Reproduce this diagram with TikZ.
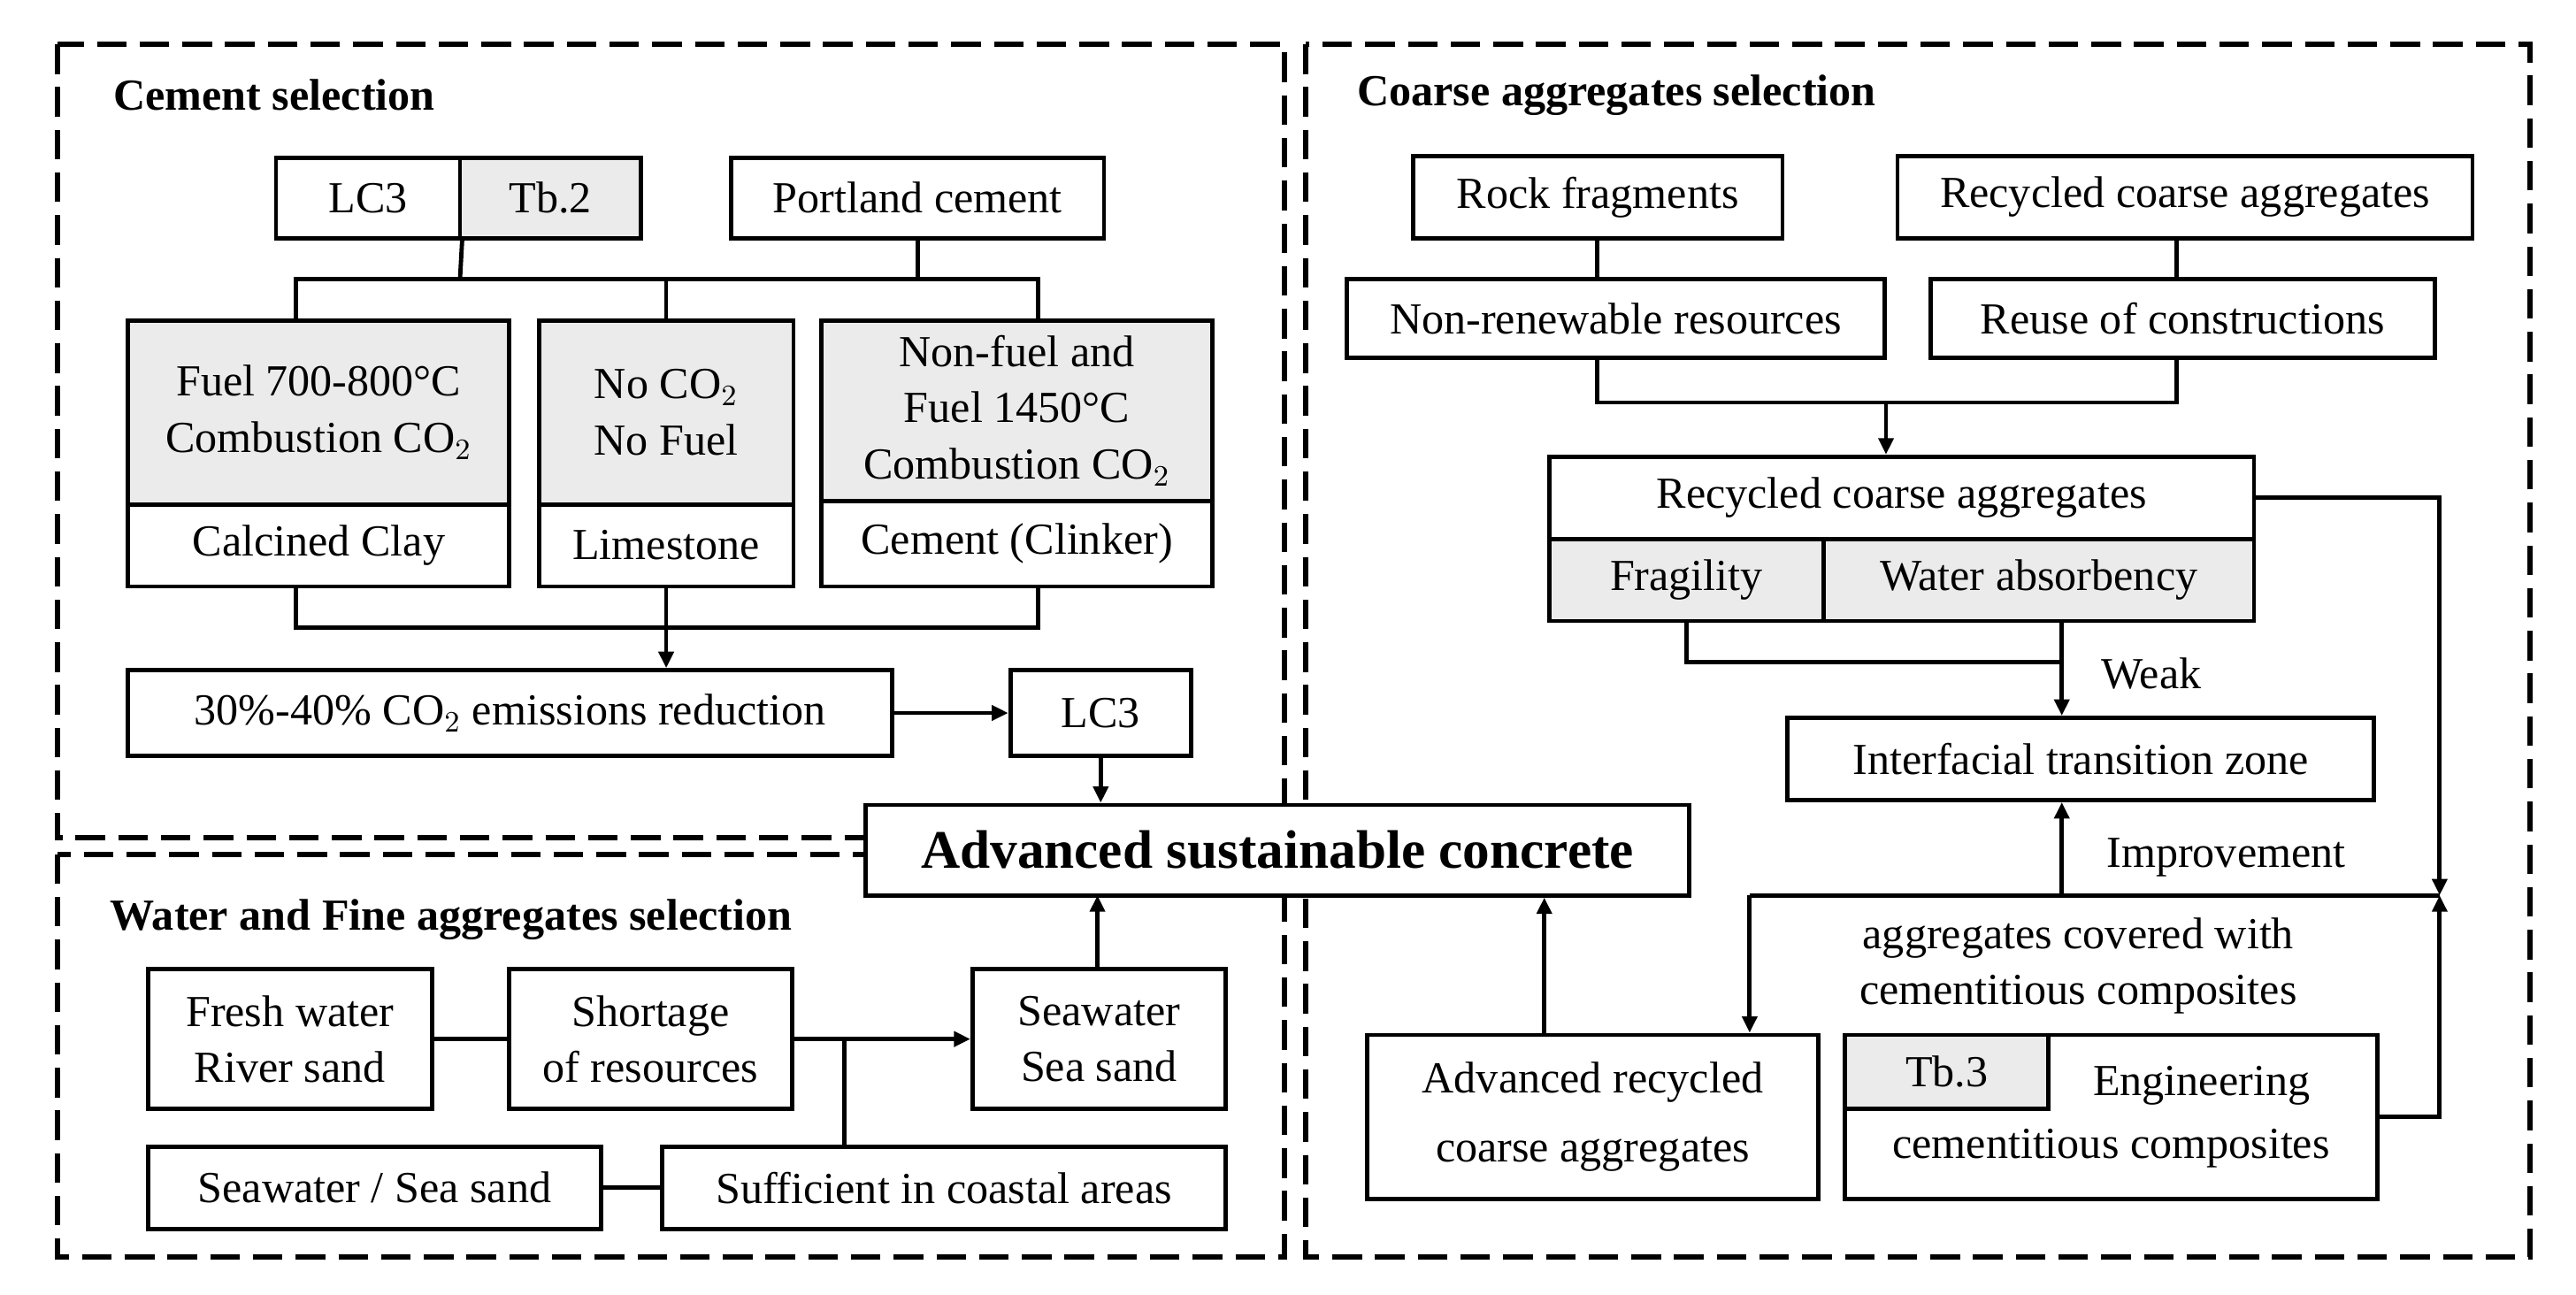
\documentclass[tikz,border=0pt]{standalone}
\usepackage{fontspec}
\setmainfont{Liberation Serif}
\usetikzlibrary{arrows.meta}
\begin{document}
\begin{tikzpicture}[x=0.5pt,y=-0.5pt,
  box/.style={draw,line width=1.3pt,inner sep=0pt,align=center,font=\fontsize{13.5}{17}\selectfont},
  g/.style={fill=black!8},
  ln/.style={line width=1.3pt},
  ar/.style={line width=1.3pt,-{Triangle[length=5pt,width=4.5pt]}},
  dsh/.style={line width=1.6pt,dash pattern=on 9pt off 4pt},
  ttl/.style={anchor=west,font=\bfseries\fontsize{13.5}{16}\selectfont},
  lbl/.style={font=\fontsize{13.5}{17}\selectfont,align=center}]
\newcommand\bx[7][]{\node[box,#1,minimum width={(#4-#2)*0.5pt},minimum height={(#5-#3)*0.5pt}] (#7) at ({(#2+#4)/2},{(#3+#5)/2}) {#6};}
\useasboundingbox (0,0) rectangle (1568,788);
% dashed regions
\draw[dsh] (35,27) rectangle (782,510);
\draw[dsh] (35,520) rectangle (782,765);
\draw[dsh] (795,27) rectangle (1540,765);
\node[ttl] (t1) at (62,58) {Cement selection};
\node[ttl] (t2) at (60,560) {Water and Fine aggregates selection};
\node[ttl] (t3) at (819,58) {Coarse aggregates selection};
% cement
\bx{168}{96}{280}{145}{LC3}{lc}
\bx[g]{280}{96}{390}{145}{Tb.2}{tb2}
\bx{445}{96}{672}{145}{Portland cement}{pc}
\bx[g]{78}{195}{310}{307}{Fuel 700-800°C\\Combustion CO$_2$}{f1}
\bx{78}{307}{310}{357}{Calcined Clay}{cc}
\bx[g]{328}{195}{483}{307}{No CO$_2$\\No Fuel}{f2}
\bx{328}{307}{483}{357}{Limestone}{ls}
\bx[g]{500}{195}{738}{305}{Non-fuel and\\Fuel 1450°C\\Combustion CO$_2$}{f3}
\bx{500}{305}{738}{357}{Cement (Clinker)}{ck}
\bx{78}{408}{543}{460}{30\%-40\% CO$_2$ emissions reduction}{red}
\bx{615}{408}{725}{460}{LC3}{lc2}
\bx[fill=white,font=\bfseries\fontsize{16.5}{20}\selectfont]{527}{490}{1028}{545}{Advanced sustainable concrete}{asc}
\coordinate (j1) at (280,170);
\coordinate (ja) at (180,170);
\coordinate (jb) at (632,170);
\draw[ln] (lc.south east) -- (j1);
\draw[ln] (pc.south) -- (pc.south |- j1);
\draw[ln] (ja |- f1.north) -- (ja) -- (jb) -- (jb |- f3.north);
\draw[ln] (f2.north) -- (f2.north |- j1);
\coordinate (j2) at (405,382);
\draw[ln] (ja |- cc.south) |- (j2) -| (jb |- ck.south);
\draw[ar] (ls.south) -- (red.north -| ls.south);
\draw[ar] (red) -- (lc2);
\draw[ar] (lc2.south) -- (lc2.south |- asc.north);
% water
\bx{90}{590}{263}{675}{Fresh water\\River sand}{fw}
\bx{310}{590}{482}{675}{Shortage\\of resources}{sh}
\bx{592}{590}{746}{675}{Seawater\\Sea sand}{sw}
\bx{90}{698}{366}{748}{Seawater / Sea sand}{sw2}
\bx{403}{698}{746}{748}{Sufficient in coastal areas}{suf}
\coordinate (j3) at (514,632);
\draw[ln] (fw) -- (sh);
\draw[ar] (sh.east |- sw) -- (sw);
\draw[ln] (j3) -- (j3 |- suf.north);
\draw[ln] (sw2) -- (suf);
\draw[ar] (668,590) -- (668,545);
% coarse
\bx{860}{95}{1085}{145}{Rock fragments}{rf}
\bx{1155}{95}{1505}{145}{Recycled coarse aggregates}{rca}
\bx{820}{170}{1147}{218}{Non-renewable resources}{nr}
\bx{1175}{170}{1482}{218}{Reuse of constructions}{ru}
\draw[ln] (972,145) -- (972,170);
\draw[ln] (1325,145) -- (1325,170);
\bx{943}{278}{1372}{328}{Recycled coarse aggregates}{rc}
\bx[g]{943}{328}{1110}{378}{Fragility}{fr}
\bx[g]{1110}{328}{1372}{378}{Water absorbency}{wa}
\bx{1088}{437}{1445}{487}{Interfacial transition zone}{itz}
\bx{832}{630}{1107}{730}{Advanced recycled\\[4pt]coarse aggregates}{arc}
\node[box,minimum width={324*0.5pt},minimum height={100*0.5pt}] (ecc) at (1285,680) {};
\node[lbl] (ecc1) at (1340,661) {Engineering};
\node[lbl] (ecc2) at (1285,699) {cementitious composites};
\bx[g]{1123}{630}{1247}{675}{Tb.3}{tb3}
\coordinate (j4) at (1148,245);
\draw[ln] (972,218) |- (j4) -| (1325,218);
\draw[ar] (j4) -- (rc.north -| j4);
\coordinate (j5) at (1255,403);
\draw[ln] (fr.south) |- (j5);
\draw[ar] (1255,378) -- (itz.north -| j5);
\node[lbl,anchor=west] (wk) at (1272,410) {Weak};
\coordinate (j6) at (1485,545);
\draw[ar] (1255,545) -- (itz.south -| j5);
\node[lbl] (imp) at (1355,522) {Improvement};
\draw[ar] (rc.east) -| (j6);
\draw[ar] (ecc.east) -| (j6);
\draw[ln] (j6) -- (1065,545);
\draw[ar] (1065,545) -- (arc.north -| 1065,0);
\node[lbl] (cov) at (1265,588) {aggregates covered with\\cementitious composites};
\draw[ar] (arc.north -| 940,0) -- (asc.south -| 940,0);
\end{tikzpicture}
\end{document}
